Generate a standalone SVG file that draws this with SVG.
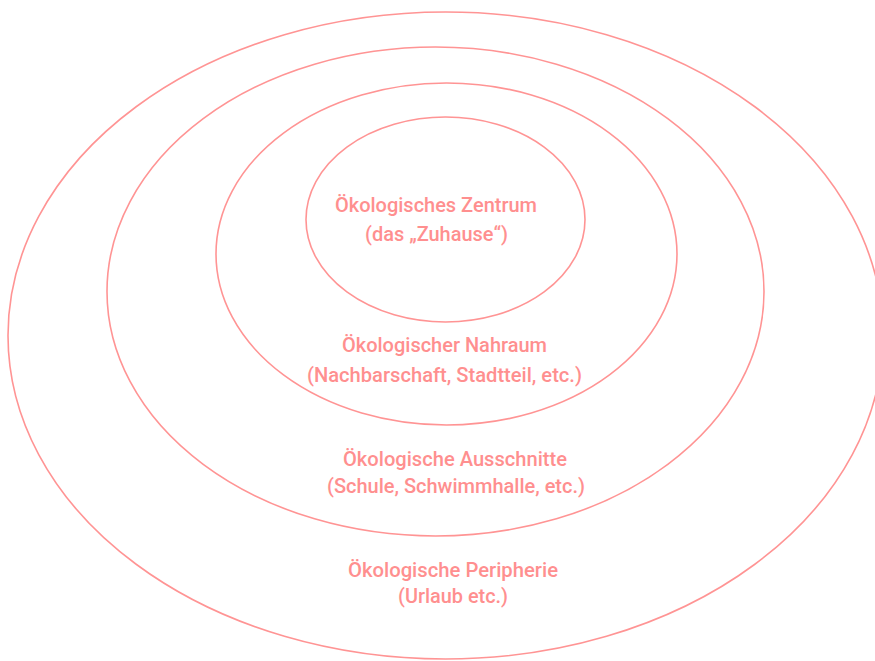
<svg xmlns="http://www.w3.org/2000/svg" width="875" height="661" viewBox="0 0 875 661">
<style>
.ring{fill:none;stroke:#ff9494;stroke-width:1.6}
.lbl{font-family:Roboto,"Liberation Sans",sans-serif;font-size:20px;font-weight:500;fill:#ff8f8f;text-anchor:middle}
</style>
<rect width="875" height="661" fill="#ffffff"/>
<g id="peripherie">
<ellipse class="ring" cx="445.5" cy="335.5" rx="437.5" ry="323.5"/>
<text class="lbl" x="453" y="577" textLength="210" lengthAdjust="spacingAndGlyphs">Ökologische Peripherie</text>
<text class="lbl" x="453" y="603" textLength="110" lengthAdjust="spacingAndGlyphs">(Urlaub etc.)</text>
</g>
<g id="ausschnitte">
<ellipse class="ring" cx="435.5" cy="291.5" rx="328.5" ry="244.5"/>
<text class="lbl" x="455" y="466" textLength="224" lengthAdjust="spacingAndGlyphs">Ökologische Ausschnitte</text>
<text class="lbl" x="456" y="493" textLength="258" lengthAdjust="spacingAndGlyphs">(Schule, Schwimmhalle, etc.)</text>
</g>
<g id="nahraum">
<ellipse class="ring" cx="446.5" cy="254" rx="230.5" ry="171"/>
<text class="lbl" x="444.5" y="352" textLength="205" lengthAdjust="spacingAndGlyphs">Ökologischer Nahraum</text>
<text class="lbl" x="444.5" y="382" textLength="275" lengthAdjust="spacingAndGlyphs">(Nachbarschaft, Stadtteil, etc.)</text>
</g>
<g id="zentrum">
<ellipse class="ring" cx="445.5" cy="219.5" rx="139.5" ry="102.5"/>
<text class="lbl" x="436" y="212" textLength="202" lengthAdjust="spacingAndGlyphs">Ökologisches Zentrum</text>
<text class="lbl" x="436.5" y="241" textLength="143" lengthAdjust="spacingAndGlyphs">(das „Zuhause“)</text>
</g>
<g id="connectors"/>
</svg>
